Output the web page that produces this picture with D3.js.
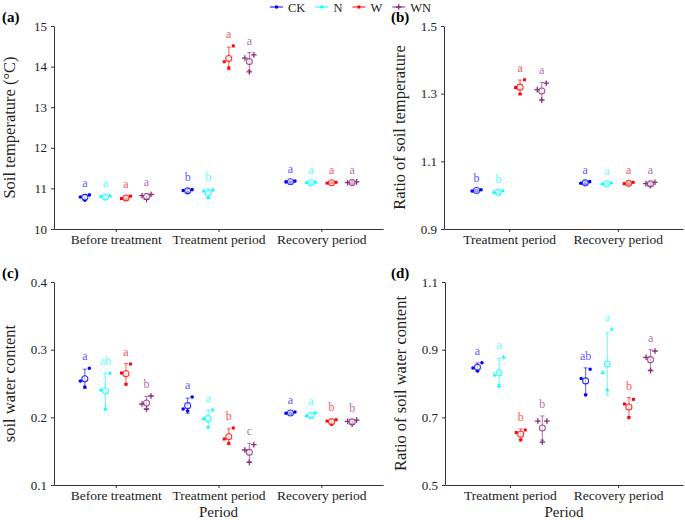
<!DOCTYPE html>
<html>
<head>
<meta charset="utf-8">
<script src="https://cdn.jsdelivr.net/npm/d3@7"></script>
<style>
body { margin: 0; background: #fff; }
text { font-family: "Liberation Serif", "Times New Roman", serif; }
</style>
</head>
<body>
<svg id="chart"></svg>
<script>
var treatments = ['CK', 'N', 'W', 'WN']
var colors = ['#0000ff', '#00ffff', '#ff0000', '#8b2c7d']

var periods3 = ['Before treatment', 'Treatment period', 'Recovery period']
var periods2 = ['Treatment period', 'Recovery period']

// replicates per period -> treatment (three plots each)
var tempReps = [
    [[10.79, 10.71, 10.84], [10.80, 10.74, 10.82], [10.75, 10.73, 10.81], [10.82, 10.73, 10.85]],
    [[10.95, 10.90, 10.97], [10.93, 10.77, 10.96], [14.12, 13.97, 14.51], [14.21, 13.87, 14.29]],
    [[11.16, 11.15, 11.18], [11.14, 11.13, 11.15], [11.13, 11.14, 11.15], [11.14, 11.13, 11.16]]
]
var tempLetters = [['a', 'a', 'a', 'a'], ['b', 'b', 'a', 'a'], ['a', 'a', 'a', 'a']]

var tempRatioReps = [
    [[1.012, 1.013, 1.016], [1.008, 1.005, 1.012], [1.318, 1.299, 1.341], [1.312, 1.281, 1.331]],
    [[1.035, 1.034, 1.040], [1.033, 1.032, 1.036], [1.034, 1.033, 1.038], [1.034, 1.028, 1.038]]
]
var tempRatioLetters = [['b', 'b', 'a', 'a'], ['a', 'a', 'a', 'a']]

var swcReps = [
    [[0.2537, 0.2448, 0.2725], [0.240, 0.212, 0.265], [0.2655, 0.2488, 0.2788], [0.2197, 0.2123, 0.2315]],
    [[0.2123, 0.2094, 0.230], [0.198, 0.1853, 0.2108], [0.168, 0.1616, 0.1842], [0.1517, 0.1335, 0.1596]],
    [[0.206, 0.2055, 0.208], [0.2025, 0.200, 0.2065], [0.1945, 0.1896, 0.1965], [0.194, 0.190, 0.196]]
]
var swcLetters = [['a', 'ab', 'a', 'b'], ['a', 'a', 'b', 'c'], ['a', 'a', 'b', 'b']]

var swcRatioReps = [
    [[0.846, 0.837, 0.8615], [0.824, 0.7936, 0.8775], [0.655, 0.633, 0.6626], [0.689, 0.627, 0.689]],
    [[0.815, 0.766, 0.842], [0.832, 0.781, 0.960], [0.7394, 0.699, 0.753], [0.8775, 0.838, 0.896]]
]
var swcRatioLetters = [['a', 'a', 'b', 'b'], ['ab', 'a', 'b', 'a']]

var width = 685, height = 520
var svg = d3.select('#chart').attr('width', width).attr('height', height)

var jitter = [-4.5, 0, 4.5]

function symbolPath(ti) {
    if (ti == 0) return d3.symbol(d3.symbolCircle, 10)()
    if (ti == 1) return d3.symbol(d3.symbolTriangle, 8)()
    if (ti == 2) return d3.symbol(d3.symbolSquare, 9)()
    return 'M-2.8,0H2.8M0,-2.8V2.8'
}

function drawMarker(g, ti, x, y) {
    var p = g.append('path')
        .attr('d', symbolPath(ti))
        .attr('transform', 'translate(' + x + ',' + y + ')')
    if (ti == 3) p.attr('fill', 'none').attr('stroke', colors[ti]).attr('stroke-width', 1.3)
    else p.attr('fill', colors[ti])
}

function drawPanel(cfg) {
    var g = svg.append('g')
    var x = d3.scalePoint().domain(cfg.periods).range([cfg.left, cfg.right]).padding(0.6)
    var y = d3.scaleLinear().domain(cfg.yDomain).range([cfg.bottom, cfg.top])
    var dodge = x.step() * 0.2

    var yAxis = d3.axisLeft(y).tickValues(cfg.yTicks).tickFormat(d3.format(cfg.fmt))
        .tickSize(3).tickSizeOuter(0).tickPadding(4)
    var ya = g.append('g').attr('transform', 'translate(' + cfg.left + ',0)').call(yAxis)
    var xAxis = d3.axisBottom(x).tickSize(3).tickSizeOuter(0).tickPadding(2)
    var xa = g.append('g').attr('transform', 'translate(0,' + cfg.bottom + ')').call(xAxis)

    ya.selectAll('text').style('font-size', '13px').attr('fill', '#222')
    xa.selectAll('text').style('font-size', '13.5px').attr('fill', '#222')
    g.selectAll('.domain, .tick line').attr('stroke', '#333').attr('stroke-width', 1)

    g.append('text')
        .attr('transform', 'translate(' + (cfg.left - 39) + ',' + ((cfg.top + cfg.bottom) / 2) + ') rotate(-90)')
        .attr('text-anchor', 'middle')
        .style('font-size', '16.5px')
        .attr('fill', '#222')
        .text(cfg.yLabel)

    g.append('text')
        .attr('x', cfg.tagX).attr('y', cfg.top - 4)
        .style('font-size', '15px').style('font-weight', 'bold')
        .text(cfg.tag)

    if (cfg.xTitle) {
        g.append('text')
            .attr('x', (cfg.left + cfg.right) / 2).attr('y', cfg.bottom + 31.5)
            .attr('text-anchor', 'middle')
            .style('font-size', '15px')
            .attr('fill', '#222')
            .text(cfg.xTitle)
    }

    cfg.periods.forEach(function (p, pi) {
        treatments.forEach(function (t, ti) {
            var reps = cfg.reps[pi][ti]
            var m = d3.mean(reps), sd = d3.deviation(reps)
            var cx = x(p) + (ti - 1.5) * dodge
            var c = colors[ti]

            // error bar (mean +- sd)
            var eb = g.append('g').attr('stroke', c).attr('stroke-opacity', 0.6).attr('stroke-width', 1.1)
            eb.append('line').attr('x1', cx).attr('x2', cx).attr('y1', y(m - sd)).attr('y2', y(m + sd))
            eb.append('line').attr('x1', cx - 2).attr('x2', cx + 2).attr('y1', y(m - sd)).attr('y2', y(m - sd))
            eb.append('line').attr('x1', cx - 2).attr('x2', cx + 2).attr('y1', y(m + sd)).attr('y2', y(m + sd))

            reps.forEach(function (v, ri) {
                drawMarker(g, ti, cx + jitter[ri], y(v))
            })

            g.append('circle')
                .attr('cx', cx).attr('cy', y(m)).attr('r', 3)
                .attr('fill', '#fff').attr('fill-opacity', 0.6)
                .attr('stroke', c).attr('stroke-opacity', 0.8).attr('stroke-width', 1.1)

            var top = y(Math.max(d3.max(reps), m + sd))
            g.append('text')
                .attr('x', cx).attr('y', top - 8)
                .attr('text-anchor', 'middle')
                .style('font-size', '12px')
                .attr('fill', c).attr('fill-opacity', 0.7)
                .text(cfg.letters[pi][ti])
        })
    })
}

drawPanel({left: 54, right: 383, top: 26, bottom: 229, periods: periods3, reps: tempReps,
    letters: tempLetters, yDomain: [10, 15], yTicks: [10, 11, 12, 13, 14, 15], fmt: 'd',
    yLabel: 'Soil temperature (\u00B0C)', tag: '(a)', tagX: 2})
drawPanel({left: 444, right: 683, top: 26, bottom: 229, periods: periods2, reps: tempRatioReps,
    letters: tempRatioLetters, yDomain: [0.9, 1.5], yTicks: [0.9, 1.1, 1.3, 1.5], fmt: '.1f',
    yLabel: 'Ratio of soil temperature', tag: '(b)', tagX: 391})
drawPanel({left: 54, right: 383, top: 282, bottom: 485, periods: periods3, reps: swcReps,
    letters: swcLetters, yDomain: [0.1, 0.4], yTicks: [0.1, 0.2, 0.3, 0.4], fmt: '.1f',
    yLabel: 'soil water content', tag: '(c)', tagX: 2, xTitle: 'Period'})
drawPanel({left: 445, right: 683, top: 282, bottom: 485, periods: periods2, reps: swcRatioReps,
    letters: swcRatioLetters, yDomain: [0.5, 1.1], yTicks: [0.5, 0.7, 0.9, 1.1], fmt: '.1f',
    yLabel: 'Ratio of soil water content', tag: '(d)', tagX: 391, xTitle: 'Period'})

// legend
var legend = svg.append('g')
var lx = 270
treatments.forEach(function (t, ti) {
    legend.append('line').attr('x1', lx).attr('x2', lx + 13).attr('y1', 7).attr('y2', 7)
        .attr('stroke', colors[ti]).attr('stroke-width', 1)
    drawMarker(legend, ti, lx + 6.5, 7)
    var txt = legend.append('text').attr('x', lx + 18).attr('y', 11.5)
        .style('font-size', '12.5px').attr('fill', '#222').text(t)
    lx += 18 + txt.node().getComputedTextLength() + 10
})
</script>
</body>
</html>
